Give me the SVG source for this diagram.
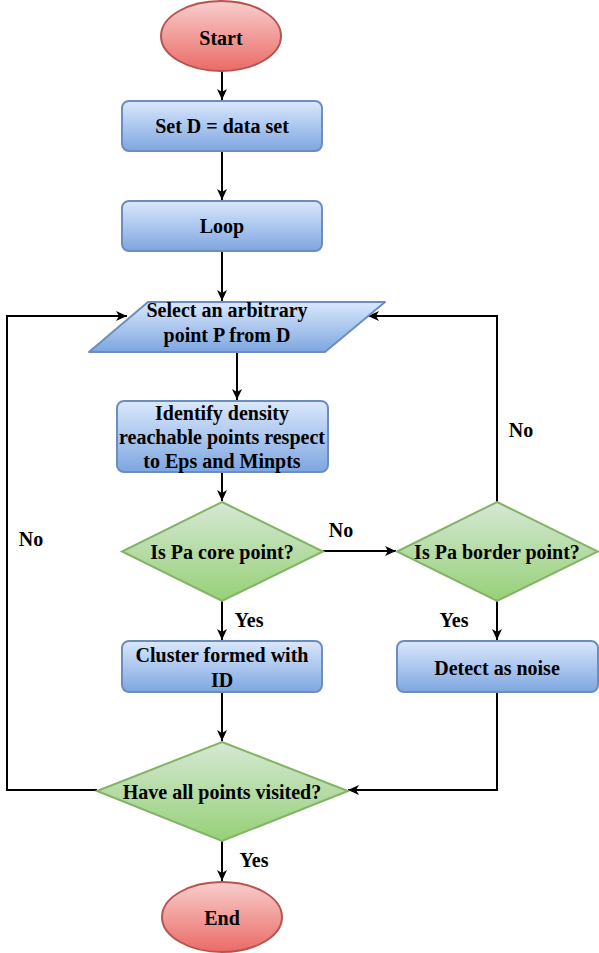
<svg xmlns="http://www.w3.org/2000/svg" width="599" height="953" viewBox="0 0 599 953">
<defs>
<linearGradient id="gRed" x1="0" y1="0" x2="0" y2="1"><stop offset="0" stop-color="#f8cecc"/><stop offset="1" stop-color="#ea6b66"/></linearGradient>
<linearGradient id="gBlue" x1="0" y1="0" x2="0" y2="1"><stop offset="0" stop-color="#dae8fc"/><stop offset="1" stop-color="#7ea6e0"/></linearGradient>
<linearGradient id="gGreen" x1="0" y1="0" x2="0" y2="1"><stop offset="0" stop-color="#d5e8d4"/><stop offset="1" stop-color="#97d077"/></linearGradient>
<marker id="arr" markerUnits="userSpaceOnUse" markerWidth="12" markerHeight="10" refX="11" refY="5" orient="auto">
<path d="M0,0 L11,5 L0,10 L3,5 Z" fill="#000"/>
</marker>
<style>
.t{font-family:"Liberation Serif","Times New Roman",serif;font-weight:bold;font-size:20px;fill:#000;text-anchor:middle}
.red{fill:url(#gRed);stroke:#b85450;stroke-width:2}
.blue{fill:url(#gBlue);stroke:#6c8ebf;stroke-width:2}
.green{fill:url(#gGreen);stroke:#82b366;stroke-width:2}
.c{fill:none;stroke:#000;stroke-width:2;marker-end:url(#arr)}
</style>
</defs>
<g id="connectors">
<path class="c" d="M222,71 L222,100"/>
<path class="c" d="M222,151 L222,200"/>
<path class="c" d="M222,251 L222,301"/>
<path class="c" d="M237,352 L237,400"/>
<path class="c" d="M222,472 L222,501"/>
<path class="c" d="M323,551 L396,551"/>
<path class="c" d="M222,601 L222,640"/>
<path class="c" d="M497,601 L497,640"/>
<path class="c" d="M497,502 L497,316 L368,316"/>
<path class="c" d="M222,692 L222,741"/>
<path class="c" d="M497,692 L497,790 L348,790"/>
<path class="c" d="M97,790 L7,790 L7,316 L127,316"/>
<path class="c" d="M222,841 L222,881"/>
<text class="t" x="341" y="537">No</text>
<text class="t" x="249" y="627">Yes</text>
<text class="t" x="454" y="627">Yes</text>
<text class="t" x="521" y="437">No</text>
<text class="t" x="31" y="546">No</text>
<text class="t" x="254" y="867">Yes</text>
</g>
<g id="start">
<ellipse class="red" cx="221" cy="36" rx="60" ry="35"/>
<text class="t" x="221" y="45">Start</text>
</g>
<g id="setd">
<rect class="blue" x="122" y="101" width="200" height="50" rx="7"/>
<text class="t" x="222" y="133">Set D = data set</text>
</g>
<g id="loop">
<rect class="blue" x="122" y="201" width="200" height="50" rx="7"/>
<text class="t" x="222" y="233">Loop</text>
</g>
<g id="select">
<path class="blue" d="M148,302 L385,302 L325,352 L89,352 Z" stroke-linejoin="round"/>
<text class="t" x="227" y="317">Select an arbitrary</text>
<text class="t" x="227" y="342">point P from D</text>
</g>
<g id="identify">
<rect class="blue" x="117" y="401" width="211" height="71" rx="7"/>
<text class="t" x="222" y="420">Identify density</text>
<text class="t" x="222" y="444">reachable points respect</text>
<text class="t" x="222" y="468">to Eps and Minpts</text>
</g>
<g id="core">
<path class="green" d="M222,502 L323,551.5 L222,601 L122,551.5 Z"/>
<text class="t" x="222" y="559">Is Pa core point?</text>
</g>
<g id="border">
<path class="green" d="M497,502 L598,551.5 L497,601 L397,551.5 Z"/>
<text class="t" x="497" y="559">Is Pa border point?</text>
</g>
<g id="cluster">
<rect class="blue" x="122" y="641" width="200" height="51" rx="7"/>
<text class="t" x="222" y="662">Cluster formed with</text>
<text class="t" x="222" y="687">ID</text>
</g>
<g id="noise">
<rect class="blue" x="397" y="641" width="201" height="51" rx="7"/>
<text class="t" x="497" y="675">Detect as noise</text>
</g>
<g id="visited">
<path class="green" d="M222,742 L348,791 L222,841 L97,791 Z"/>
<text class="t" x="222" y="799">Have all points visited?</text>
</g>
<g id="end">
<ellipse class="red" cx="222" cy="917" rx="60" ry="35"/>
<text class="t" x="222" y="925">End</text>
</g>
</svg>
